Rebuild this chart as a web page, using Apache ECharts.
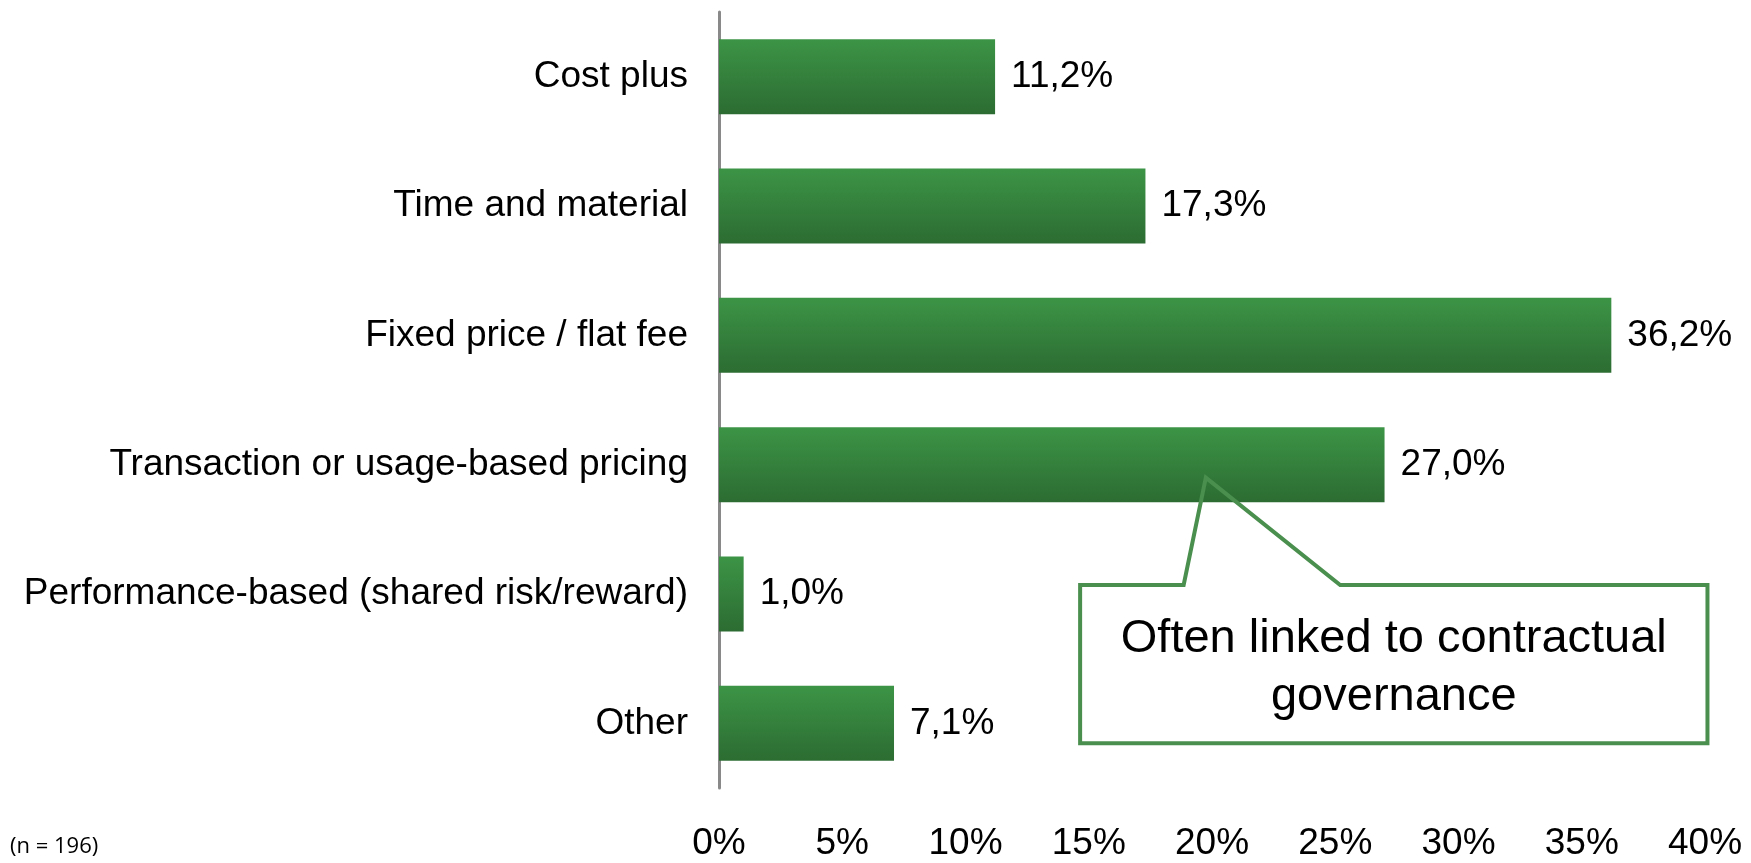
<!DOCTYPE html>
<html>
<head>
<meta charset="utf-8">
<script src="https://cdn.jsdelivr.net/npm/echarts@6/dist/echarts.min.js"></script>
<style>
  html, body { margin: 0; padding: 0; background: #ffffff; }
  #chart { width: 1751px; height: 863px; }
</style>
</head>
<body>
<div id="chart"></div>
<script>
// Pricing models used (share of respondents, %)
const categories = [
  'Cost plus',
  'Time and material',
  'Fixed price / flat fee',
  'Transaction or usage-based pricing',
  'Performance-based (shared risk/reward)',
  'Other'
];
const shares = [11.2, 17.3, 36.2, 27.0, 1.0, 7.1];
const axisMin = 0;
const axisMax = 40;
const axisStep = 5;
const sampleNote = '(n = 196)';
const calloutLines = ['Often linked to contractual', 'governance'];

const FONT = '"Liberation Sans", Arial, sans-serif';
const fmtPct = v => v.toFixed(1).replace('.', ',') + '%';

const chart = echarts.init(document.getElementById('chart'), null, { renderer: 'canvas' });

chart.setOption({
  backgroundColor: '#ffffff',
  animation: false,
  grid: { left: 719, right: 46, top: 12, bottom: 75, containLabel: false },
  xAxis: {
    type: 'value',
    min: axisMin,
    max: axisMax,
    interval: axisStep,
    axisLine: { show: false },
    axisTick: { show: false },
    splitLine: { show: false },
    axisLabel: {
      formatter: '{value}%',
      fontFamily: FONT,
      fontSize: 37,
      color: '#000000',
      margin: 37
    }
  },
  yAxis: {
    type: 'category',
    data: categories,
    inverse: true,
    axisLine: { show: true, lineStyle: { color: '#898989', width: 3 } },
    axisTick: { show: false },
    axisLabel: {
      fontFamily: FONT,
      fontSize: 37,
      color: '#000000',
      margin: 31,
      padding: [6, 0, 0, 0]
    }
  },
  series: [{
    type: 'bar',
    data: shares,
    barWidth: 75,
    itemStyle: {
      color: new echarts.graphic.LinearGradient(0, 0, 0, 1, [
        { offset: 0, color: '#3c9446' },
        { offset: 1, color: '#2c6c32' }
      ])
    },
    label: {
      show: true,
      position: 'right',
      distance: 16,
      formatter: p => fmtPct(p.value),
      fontFamily: FONT,
      fontSize: 37,
      color: '#000000'
    }
  }]
});

// Callout pointing at the usage-based pricing bar, placed in axis units
function drawCallout() {
  const toPx = (xv, cat, dy) => {
    const p = chart.convertToPixel({ gridIndex: 0 }, [xv, cat]);
    return [p[0], p[1] + dy];
  };
  const tip = toPx(19.75, categories[3], 13);
  const baseY = toPx(0, categories[4], -9)[1];
  const bottomY = toPx(0, categories[5], 20)[1];
  const left = toPx(14.65, categories[0], 0)[0];
  const right = toPx(40.1, categories[0], 0)[0];
  const baseL = toPx(18.85, categories[0], 0)[0];
  const baseR = toPx(25.2, categories[0], 0)[0];
  const pts = [
    [left, baseY], [baseL, baseY], tip, [baseR, baseY],
    [right, baseY], [right, bottomY], [left, bottomY]
  ];
  const cx = (left + right) / 2;
  const cy = (baseY + bottomY) / 2;
  chart.setOption({
    graphic: [
      {
        type: 'polygon',
        shape: { points: pts },
        style: { fill: 'rgba(255,255,255,0)', stroke: '#4a8f4e', lineWidth: 4, lineJoin: 'miter' },
        z: 100
      },
      {
        type: 'text',
        x: cx,
        y: cy + 4,
        style: {
          text: calloutLines.join('\n'),
          fontFamily: FONT,
          fontSize: 47,
          lineHeight: 58,
          fill: '#000000',
          align: 'center',
          verticalAlign: 'middle'
        },
        z: 101
      },
      {
        type: 'text',
        left: 10,
        top: 836,
        style: {
          text: sampleNote,
          fontFamily: '"Open Sans", "Noto Sans", sans-serif',
          fontSize: 22,
          fill: '#000000'
        }
      }
    ]
  });
}
drawCallout();
</script>
</body>
</html>
